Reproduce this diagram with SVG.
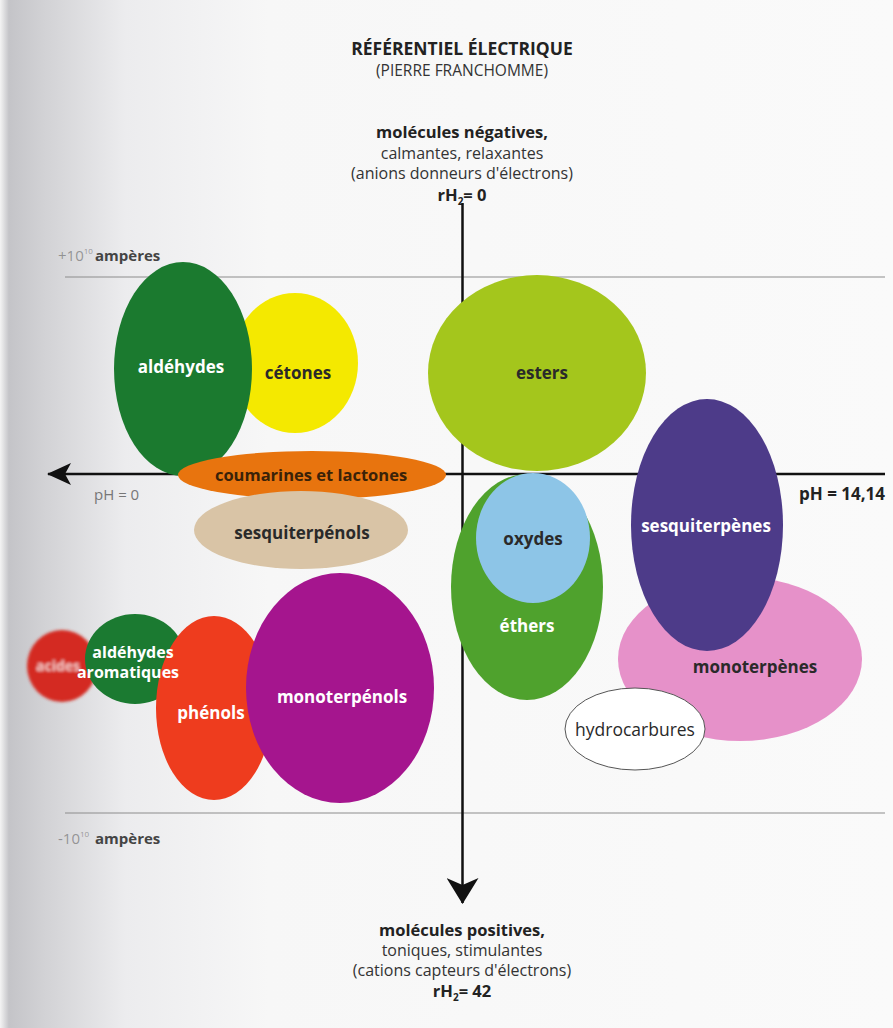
<svg xmlns="http://www.w3.org/2000/svg" width="893" height="1028" viewBox="0 0 893 1028">
  <defs>
    <linearGradient id="margin" x1="0" y1="0" x2="1" y2="0">
      <stop offset="0" stop-color="#f4f4f4"/>
      <stop offset="0.01" stop-color="#c4c4c8"/>
      <stop offset="0.05" stop-color="#d2d2d5"/>
      <stop offset="0.14" stop-color="#ececee"/>
      <stop offset="0.3" stop-color="#f7f7f7"/>
      <stop offset="1" stop-color="#fafafa"/>
    </linearGradient>
    <marker id="headV" viewBox="0 0 26 32" refX="25" refY="16" markerWidth="26" markerHeight="32" markerUnits="userSpaceOnUse" orient="auto">
      <path d="M0,0 L26,16 L0,32 L7,16 Z" fill="#111"/>
    </marker>
    <marker id="headH" viewBox="0 0 24 22" refX="23" refY="11" markerWidth="24" markerHeight="22" markerUnits="userSpaceOnUse" orient="auto">
      <path d="M0,0 L24,11 L0,22 L6,11 Z" fill="#111"/>
    </marker>
    <filter id="soft" x="-20%" y="-20%" width="140%" height="140%">
      <feGaussianBlur stdDeviation="1.6"/>
    </filter>
    <style>
      text { font-family: "Open Sans", "Noto Sans", "DejaVu Sans", sans-serif; text-anchor: middle; }
      .head { font-size: 16.5px; font-weight: bold; fill: #222; }
      .sub { font-size: 16px; fill: #333; }
      .lbl { font-size: 17px; font-weight: bold; }
      .w { fill: #ffffff; }
      .d { fill: #2a2a2a; }
      .amp { font-size: 15px; fill: #555; text-anchor: start; }
      .rule { stroke: #8c8c8c; stroke-width: 1; }
      .axis { stroke: #111; stroke-width: 2.5; fill: none; }
    </style>
  </defs>

  <rect x="0" y="0" width="893" height="1028" fill="url(#margin)"/>

  <!-- heading -->
  <text class="head" x="462" y="55" style="font-size:17.5px">RÉFÉRENTIEL ÉLECTRIQUE</text>
  <text class="sub" x="462" y="76" style="font-size:15.5px">(PIERRE FRANCHOMME)</text>

  <text class="head" x="462" y="138">molécules négatives,</text>
  <text class="sub" x="462" y="158.5">calmantes, relaxantes</text>
  <text class="sub" x="462" y="179">(anions donneurs d'électrons)</text>
  <text class="head" x="462" y="200.5">rH<tspan font-size="10" dy="4">2</tspan><tspan dy="-4">= 0</tspan></text>

  <!-- current limits -->
  <g id="limits">
    <line class="rule" x1="65" y1="277" x2="885" y2="277"/>
    <line class="rule" x1="65" y1="813" x2="885" y2="813"/>
    <text class="amp" x="58" y="261" fill-opacity="0.55">+10<tspan font-size="8" dy="-7">10</tspan></text>
    <text class="amp" x="95" y="261" style="font-weight:bold;fill:#444">ampères</text>
    <text class="amp" x="58" y="844" fill-opacity="0.55">-10<tspan font-size="8" dy="-7">10</tspan></text>
    <text class="amp" x="95" y="844" style="font-weight:bold;fill:#444">ampères</text>
  </g>

  <!-- axes -->
  <g id="axes">
    <line class="axis" x1="885" y1="474" x2="48" y2="474" marker-end="url(#headH)"/>
    <line class="axis" x1="462.5" y1="203" x2="462.5" y2="903" marker-end="url(#headV)"/>
    <text class="amp" x="94" y="500" style="fill:#777">pH = 0</text>
    <text class="head" x="842" y="500" style="font-size:17px">pH = 14,14</text>
  </g>

  <!-- molecular families -->
  <g id="cetones">
    <ellipse cx="295" cy="363" rx="63" ry="70" fill="#f4e900"/>
    <text class="lbl d" x="298" y="379">cétones</text>
  </g>
  <g id="aldehydes">
    <ellipse cx="183" cy="369" rx="69" ry="107" fill="#1b7a2f"/>
    <text class="lbl w" x="181" y="373">aldéhydes</text>
  </g>
  <g id="esters">
    <ellipse cx="537" cy="373" rx="109" ry="98" fill="#a4c61c"/>
    <text class="lbl d" x="542" y="379">esters</text>
  </g>
  <g id="coumarines">
    <ellipse cx="312" cy="475" rx="134" ry="24" fill="#e8740e"/>
    <text class="lbl" x="311" y="481" fill="#3a2208" style="font-size:16.5px">coumarines et lactones</text>
  </g>
  <g id="sesquiterpenols">
    <ellipse cx="301" cy="530" rx="107" ry="39" fill="#d9c4a6"/>
    <text class="lbl d" x="302" y="539">sesquiterpénols</text>
  </g>
  <g id="ethers">
    <ellipse cx="527" cy="587" rx="76" ry="113" fill="#4fa22d"/>
    <text class="lbl w" x="527" y="632">éthers</text>
  </g>
  <g id="oxydes">
    <ellipse cx="533" cy="538" rx="57" ry="65" fill="#8dc5e7"/>
    <text class="lbl d" x="533" y="545">oxydes</text>
  </g>
  <g id="monoterpenes">
    <ellipse cx="740" cy="659" rx="122" ry="82" fill="#e691c9"/>
    <text class="lbl d" x="755" y="673">monoterpènes</text>
  </g>
  <g id="sesquiterpenes">
    <ellipse cx="707" cy="525" rx="76" ry="126" fill="#4d3b89"/>
    <text class="lbl w" x="706" y="532">sesquiterpènes</text>
  </g>
  <g id="hydrocarbures">
    <ellipse cx="635" cy="729" rx="70" ry="41" fill="#ffffff" stroke="#555" stroke-width="1"/>
    <text class="sub d" x="635" y="736" style="font-size:17.5px">hydrocarbures</text>
  </g>
  <g id="acides">
    <g filter="url(#soft)">
      <ellipse cx="62" cy="666" rx="35" ry="36" fill="#d42a21"/>
      <text class="lbl" x="58" y="671" fill="#f3c9c6" style="font-size:14px">acides</text>
    </g>
  </g>
  <g id="aldehydes-aromatiques">
    <ellipse cx="135" cy="659" rx="50" ry="45" fill="#1b7a31"/>
  </g>
  <g id="phenols">
    <ellipse cx="214" cy="708" rx="58" ry="92" fill="#ee3c1e"/>
    <text class="lbl w" x="211" y="719">phénols</text>
  </g>
  <g id="monoterpenols">
    <ellipse cx="340" cy="688" rx="94" ry="115" fill="#a5158e"/>
    <text class="lbl w" x="342" y="703">monoterpénols</text>
  </g>
  <g id="aldehydes-aromatiques-label">
    <text class="lbl w" x="133" y="658" style="font-size:16px">aldéhydes</text>
    <text class="lbl w" x="128" y="678" style="font-size:16px">aromatiques</text>
  </g>

  <!-- foot -->
  <text class="head" x="462" y="936">molécules positives,</text>
  <text class="sub" x="462" y="956">toniques, stimulantes</text>
  <text class="sub" x="462" y="976">(cations capteurs d'électrons)</text>
  <text class="head" x="462" y="997">rH<tspan font-size="10" dy="4">2</tspan><tspan dy="-4">= 42</tspan></text>
</svg>
